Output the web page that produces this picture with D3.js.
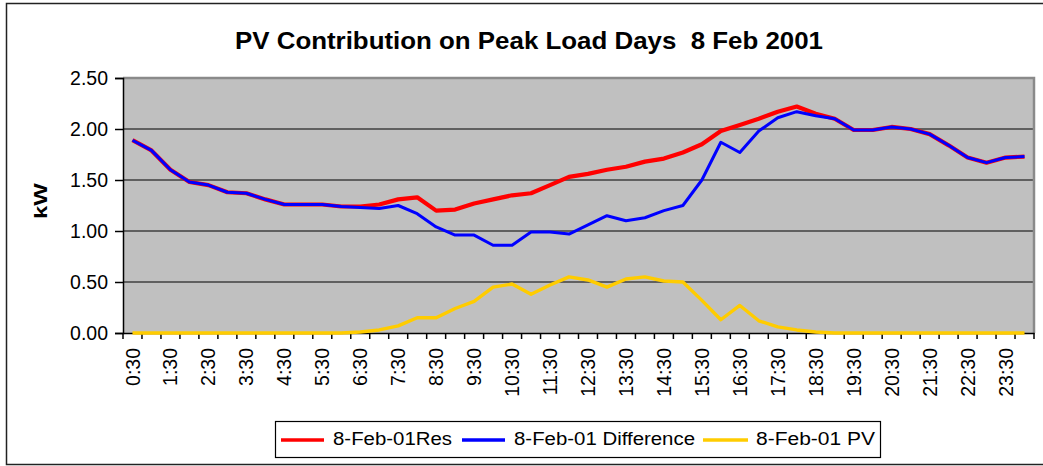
<!DOCTYPE html>
<html>
<head>
<meta charset="utf-8">
<script src="https://cdn.jsdelivr.net/npm/d3@7"></script>
<style>
  html, body { margin: 0; padding: 0; background: #fff; }
  svg { display: block; font-family: Arial, "Liberation Sans", sans-serif; }
</style>
</head>
<body>
<svg id="chart" width="1043" height="466"></svg>
<script>
// ---- data ----
const categories = ["0:30","1:00","1:30","2:00","2:30","3:00","3:30","4:00","4:30","5:00","5:30","6:00",
  "6:30","7:00","7:30","8:00","8:30","9:00","9:30","10:00","10:30","11:00","11:30","12:00",
  "12:30","13:00","13:30","14:00","14:30","15:00","15:30","16:00","16:30","17:00","17:30","18:00",
  "18:30","19:00","19:30","20:00","20:30","21:00","21:30","22:00","22:30","23:00","23:30","0:00"];
const xTickLabels = ["0:30","1:30","2:30","3:30","4:30","5:30","6:30","7:30","8:30","9:30","10:30","11:30",
  "12:30","13:30","14:30","15:30","16:30","17:30","18:30","19:30","20:30","21:30","22:30","23:30"];
const yTicks = [0, 0.5, 1.0, 1.5, 2.0, 2.5];

const resValues = [1.89,1.79,1.60,1.48,1.45,1.38,1.37,1.31,1.26,1.26,1.26,1.24,
  1.24,1.26,1.31,1.33,1.20,1.21,1.27,1.31,1.35,1.37,1.45,1.53,
  1.56,1.60,1.63,1.68,1.71,1.77,1.85,1.98,2.04,2.10,2.17,2.22,
  2.15,2.10,1.99,1.99,2.02,2.00,1.95,1.84,1.72,1.67,1.72,1.73];
const diffValues = [1.89,1.79,1.60,1.48,1.45,1.38,1.37,1.31,1.26,1.26,1.26,1.24,
  1.23,1.22,1.25,1.17,1.04,0.96,0.96,0.86,0.86,0.99,0.99,0.97,
  1.06,1.15,1.10,1.13,1.20,1.25,1.50,1.87,1.77,1.98,2.11,2.17,
  2.13,2.10,1.99,1.99,2.02,2.00,1.95,1.84,1.72,1.67,1.72,1.73];
const pvValues = [0,0,0,0,0,0,0,0,0,0,0,0,
  0.01,0.03,0.07,0.15,0.15,0.24,0.31,0.45,0.48,0.38,0.47,0.55,
  0.52,0.45,0.53,0.55,0.51,0.50,0.32,0.13,0.27,0.12,0.06,0.03,
  0.01,0,0,0,0,0,0,0,0,0,0,0];

const seriesNames = ["8-Feb-01Res", "8-Feb-01 Difference", "8-Feb-01 PV"];
const seriesColors = ["#FF0000", "#0000FF", "#FFCC00"];
const titleText = "PV Contribution on Peak Load Days  8 Feb 2001";
const yAxisTitle = "kW";

// ---- layout ----
const svg = d3.select("#chart");
const plot = { left: 123, right: 1034, top: 78, bottom: 333 };

// outer frame
svg.append("rect").attr("x", 6.5).attr("y", 3.5).attr("width", 1100).attr("height", 461)
  .attr("fill", "#fff").attr("stroke", "#222").attr("stroke-width", 1.5);

const x = d3.scaleBand().domain(categories).range([plot.left, plot.right]).padding(0);
const y = d3.scaleLinear().domain([0, 2.5]).range([plot.bottom, plot.top]);
const cx = c => x(c) + x.bandwidth() / 2;

// plot background
svg.append("rect").attr("x", plot.left).attr("y", plot.top)
  .attr("width", plot.right - plot.left).attr("height", plot.bottom - plot.top)
  .attr("fill", "#C0C0C0");

// gridlines
svg.append("g").selectAll("line").data(yTicks.filter(v => v > 0 && v < 2.5)).join("line")
  .attr("x1", plot.left).attr("x2", plot.right)
  .attr("y1", d => y(d)).attr("y2", d => y(d))
  .attr("stroke", "#000").attr("stroke-width", 1.2);

// grey plot border top/right
svg.append("path")
  .attr("d", `M${plot.left},${plot.top}H${plot.right}V${plot.bottom}`)
  .attr("fill", "none").attr("stroke", "#8a8a8a").attr("stroke-width", 2.5);

// y axis
const yAxis = svg.append("g").attr("transform", `translate(${plot.left},0)`)
  .call(d3.axisLeft(y).tickValues(yTicks).tickFormat(d3.format(".2f")).tickSize(8).tickPadding(7));
yAxis.select(".domain").attr("stroke", "#000").attr("stroke-width", 1.5);
yAxis.selectAll(".tick line").attr("stroke", "#000").attr("stroke-width", 1.5);
yAxis.selectAll(".tick text").attr("font-size", "19.5px").attr("fill", "#000")
  .attr("font-family", "Arial, 'Liberation Sans', sans-serif");

// x axis
const xAxis = svg.append("g").attr("transform", `translate(0,${plot.bottom})`)
  .call(d3.axisBottom(x).tickValues(xTickLabels).tickSize(0).tickPadding(0));
xAxis.select(".domain").attr("stroke", "#000").attr("stroke-width", 1.5);
xAxis.selectAll(".tick text")
  .attr("font-size", "19.5px").attr("fill", "#000")
  .attr("font-family", "Arial, 'Liberation Sans', sans-serif")
  .attr("text-anchor", "end")
  .attr("transform", "rotate(-90)")
  .attr("x", -15).attr("y", 0).attr("dy", "0.36em");
// boundary tick marks
const bounds = categories.map(c => x(c)).concat([plot.right]);
xAxis.append("g").selectAll("line").data(bounds).join("line")
  .attr("x1", d => d).attr("x2", d => d).attr("y1", 0).attr("y2", 6)
  .attr("stroke", "#000").attr("stroke-width", 1.5);

// lines
const line = d3.line().x((d, i) => cx(categories[i])).y(d => y(d));
const seriesData = [resValues, diffValues, pvValues];
const widths = [4.2, 3, 3.4];
seriesData.forEach((vals, k) => {
  svg.append("path").datum(vals).attr("d", line)
    .attr("fill", "none").attr("stroke", seriesColors[k])
    .attr("stroke-width", widths[k]).attr("stroke-linejoin", "round");
});

// title
svg.append("text").attr("x", 529).attr("y", 49).attr("text-anchor", "middle")
  .attr("font-size", "24px").attr("font-weight", "bold")
  .style("white-space", "pre").attr("xml:space", "preserve")
  .attr("textLength", 588).attr("lengthAdjust", "spacingAndGlyphs")
  .text(titleText);

// y axis title
svg.append("text").attr("transform", "translate(47,201) rotate(-90)")
  .attr("text-anchor", "middle").attr("font-size", "18px").attr("font-weight", "bold")
  .attr("textLength", 36).attr("lengthAdjust", "spacingAndGlyphs")
  .text(yAxisTitle);

// legend
const lg = svg.append("g");
lg.append("rect").attr("x", 275.5).attr("y", 421.5).attr("width", 605).attr("height", 36)
  .attr("fill", "#fff").attr("stroke", "#000").attr("stroke-width", 1.2);
const legendItems = [
  { x1: 281, x2: 324, tx: 333, tw: 119 },
  { x1: 462, x2: 505, tx: 514, tw: 181 },
  { x1: 703, x2: 748, tx: 756, tw: 119 }
];
legendItems.forEach((it, k) => {
  lg.append("line").attr("x1", it.x1).attr("x2", it.x2).attr("y1", 440).attr("y2", 440)
    .attr("stroke", seriesColors[k]).attr("stroke-width", 3.5);
  lg.append("text").attr("x", it.tx).attr("y", 445).attr("font-size", "18px")
    .attr("textLength", it.tw).attr("lengthAdjust", "spacingAndGlyphs")
    .text(seriesNames[k]);
});
</script>
</body>
</html>
